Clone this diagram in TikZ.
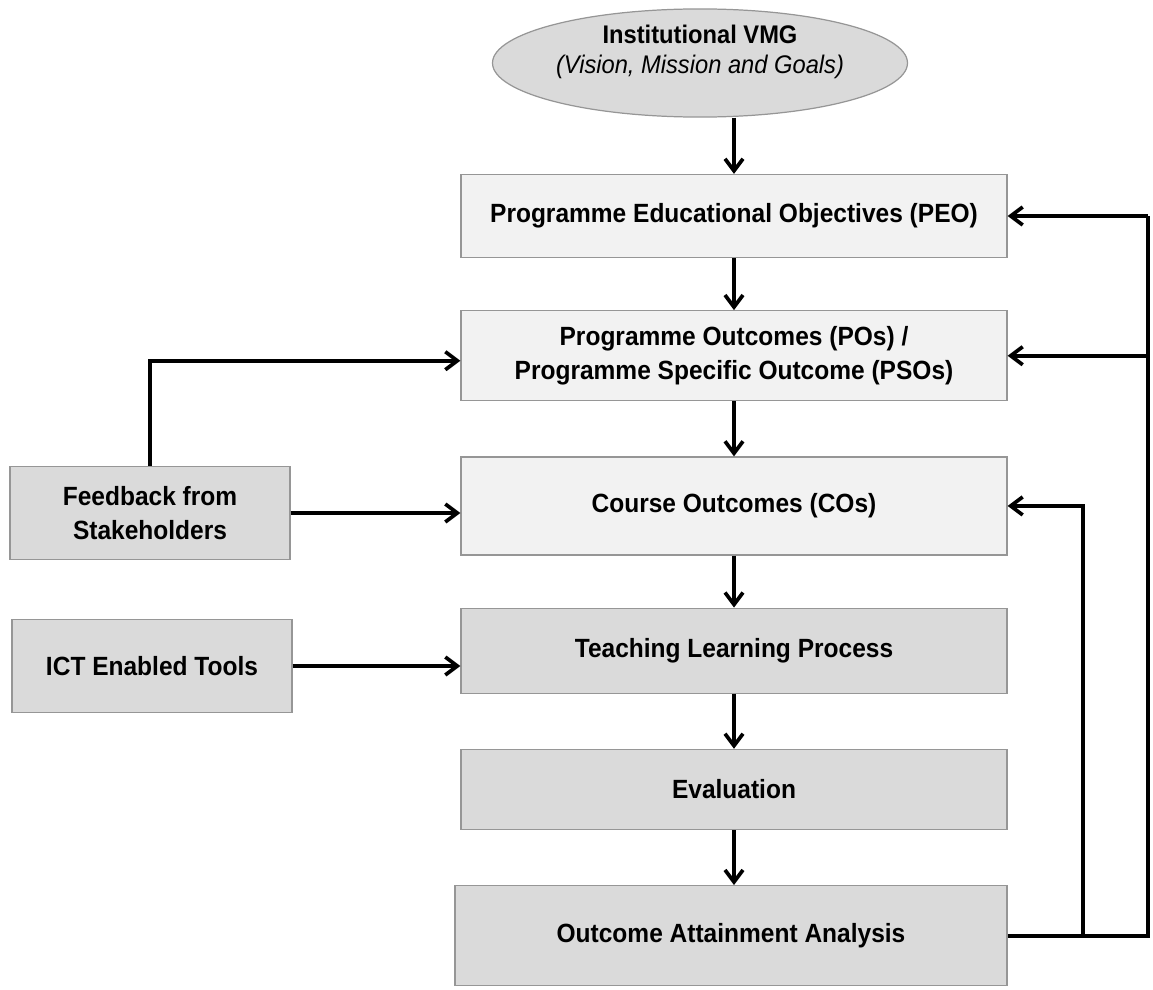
\documentclass[tikz,border=0pt]{standalone}
\usepackage{fontspec}
\setmainfont{Liberation Sans}[FakeStretch=0.93]
\usetikzlibrary{positioning,shapes.geometric,arrows.meta}
\definecolor{lightbox}{RGB}{242,242,242}
\definecolor{darkbox}{RGB}{218,218,218}
\definecolor{boxline}{RGB}{150,150,150}

\begin{document}
\begin{tikzpicture}[
    font=\bfseries\fontsize{15}{19}\selectfont,
    >={Straight Barb[length=2.4mm,width=3.6mm]},
    flow/.style={draw=black,line width=2.1pt},
    obj/.style={rectangle,draw=boxline,line width=0.7pt,fill=lightbox,
      minimum width=10.92cm,align=center},
    proc/.style={obj,fill=darkbox},
    side/.style={proc,minimum width=5.6cm,minimum height=1.86cm}]
    \useasboundingbox (0,0) rectangle (23.06,-19.8);
    \node[ellipse,draw=boxline,line width=0.7pt,fill=darkbox,inner sep=0pt,
      minimum width=8.3cm,minimum height=2.1cm,align=center,
      font=\bfseries\fontsize{14.5}{17.5}\selectfont] (vmg) at (14.0,-1.26)
      {Institutional VMG\\{\mdseries\itshape (Vision, Mission and Goals)}\\[-2pt]\mbox{}};
    \node[obj,minimum height=1.66cm] (peo) at (14.68,-4.32) {Programme Educational Objectives (PEO)};
    \node[obj,minimum height=1.8cm,below=1.04cm of peo] (po)
      {Programme Outcomes (POs) /\\Programme Specific Outcome (PSOs)};
    \node[obj,minimum height=1.96cm,below=1.1cm of po] (co) {Course Outcomes (COs)};
    \node[proc,minimum height=1.7cm,below=1.04cm of co] (tlp) {Teaching Learning Process};
    \node[proc,minimum height=1.6cm,below=1.1cm of tlp] (eval) {Evaluation};
    \node[proc,minimum height=2cm,minimum width=11.04cm,below=1.1cm of eval,xshift=-0.06cm] (oaa)
      {Outcome Attainment Analysis};
    \node[side,align=center] (fb) at (3.0,-10.26) {Feedback from\\Stakeholders};
    \node[side] (ict) at (3.04,-13.32) {ICT Enabled Tools};
    % main chain
    \draw[flow,->] (vmg.south -| peo) -- (peo);
    \draw[flow,->] (peo) -- (po);
    \draw[flow,->] (po) -- (co);
    \draw[flow,->] (co) -- (tlp);
    \draw[flow,->] (tlp) -- (eval);
    \draw[flow,->] (eval) -- (oaa.north -| eval);
    % inputs on the left
    \draw[flow,->] (fb) -- (co.west |- fb);
    \draw[flow,->] (fb.north) |- ([yshift=-0.1cm]po.west);
    \draw[flow,->] (ict) -- (tlp.west |- ict);
    % feedback loops
    \coordinate (rail) at (22.96,0);
    \coordinate (inner) at (21.66,0);
    \draw[flow] (oaa.east) -- (oaa.east -| rail) -- (peo.east -| rail);
    \draw[flow,->] (peo.east -| rail) -- (peo.east);
    \draw[flow,->] (po.east -| rail) -- (po.east);
    \draw[flow,->] (oaa.east -| inner) |- (co.east);
\end{tikzpicture}
\end{document}
